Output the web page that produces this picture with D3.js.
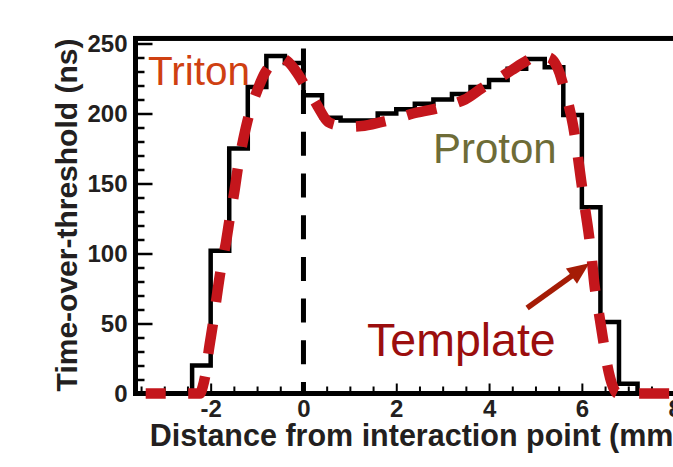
<!DOCTYPE html>
<html>
<head>
<meta charset="utf-8">
<script src="https://cdn.jsdelivr.net/npm/d3@7"></script>
<style>
  html, body { margin: 0; padding: 0; background: #fff; }
  svg { display: block; }
  text { font-family: "Liberation Sans", Arial, Helvetica, sans-serif; }
</style>
</head>
<body>
<svg id="chart" width="673" height="467"></svg>
<script>
// Measured time-over-threshold per 0.4 mm bin (edges in mm, values in ns)
const binEdges = [-2.8, -2.4, -2.0, -1.6, -1.2, -0.8, -0.4, 0.0, 0.4, 0.8, 1.2, 1.6, 2.0,
                  2.4, 2.8, 3.2, 3.6, 4.0, 4.4, 4.8, 5.2, 5.6, 6.0, 6.4, 6.8, 7.2, 7.6];
const totValues = [0, 20, 102, 175, 219, 241, 236, 213, 197, 195, 195, 200, 203,
                   207, 210, 214, 219, 224, 232, 239, 233, 199, 133, 51, 7, 0];

// Template curve: distance (mm) and expected time-over-threshold (ns)
const templateX = [-3.4, -2.6, -2.23, -2.17, -2.10, -2.04, -1.95, -1.87, -1.78, -1.67, -1.58,
                   -1.49, -1.41, -1.30, -1.17, -0.99, -0.83, -0.68, -0.50, -0.35, -0.20, -0.04,
                   0.10, 0.25, 0.31, 0.53, 0.75, 1.0, 1.25, 1.69, 2.0, 2.36, 2.79, 3.2, 3.48,
                   3.84, 4.2, 4.49, 4.78, 5.06, 5.3, 5.42, 5.52, 5.6, 5.69, 5.81, 5.90, 5.98,
                   6.06, 6.14, 6.21, 6.27, 6.36, 6.45, 6.54, 6.61, 6.68, 6.76, 7.5, 9.0];
const templateY = [0, 0, 0, 5, 16, 31, 50, 69, 89, 108, 127,
                   144, 162, 181, 199.5, 217, 229, 236, 240, 237.5, 232, 224,
                   216, 208.4, 205, 194, 191.5, 190.6, 191, 194, 196.5, 200, 203, 206.5, 210,
                   218, 225, 231, 237, 241.5, 240, 236, 229, 220, 209.5, 191.5, 172.5, 153,
                   134, 116, 97.5, 78, 59, 40, 21.5, 11, 4, 0, 0, 0];

// Axis ticks
const xTickMajor = [-2, 0, 2, 4, 6, 8];
const yTickMajor = [0, 50, 100, 150, 200, 250];

// Annotations (data coordinates)
const labels = [
  { text: "Triton",   x: -3.35, y: 220.4, size: 40.5, color: "#cf4011" },
  { text: "Proton",   x: 2.79,  y: 164.9, size: 42,   color: "#6e6c37" },
  { text: "Template", x: 1.37,  y: 26.8,  size: 46.5, color: "#9b0e0e" }
];
const arrowFrom = [4.82, 61];
const arrowTo = [6.16, 93];
const dividerTop = 246.5;

const svg = d3.select("#chart");
svg.append("rect").attr("width", 673).attr("height", 467).attr("fill", "#fff");

const xDomain = [-3.62, 8.5];
const yDomain = [0, 253.6];
const x = d3.scaleLinear().domain(xDomain).range([135.5, 135.5 + (xDomain[1] - xDomain[0]) * 46.4]);
const y = d3.scaleLinear().domain(yDomain).range([393.5, 393.5 - yDomain[1] * 1.4]);

const ink = "#231f20";

// Frame
svg.append("rect")
  .attr("x", x(xDomain[0])).attr("y", y(yDomain[1]))
  .attr("width", x(xDomain[1]) - x(xDomain[0]))
  .attr("height", y(0) - y(yDomain[1]))
  .attr("fill", "none").attr("stroke", "#000").attr("stroke-width", 5);

// Y axis: major + minor ticks pointing inward
const yMinor = d3.range(10, 250, 10).filter(v => v % 50 !== 0);
const gYminor = svg.append("g").attr("transform", `translate(${x(xDomain[0])},0)`)
  .call(d3.axisLeft(y).tickValues(yMinor).tickSize(-9).tickFormat(""));
const gY = svg.append("g").attr("transform", `translate(${x(xDomain[0])},0)`)
  .call(d3.axisLeft(y).tickValues(yTickMajor).tickSize(-17).tickPadding(8).tickFormat(d => String(d)));

// X axis
const xMinor = d3.range(-3.5, 8.51, 0.5).filter(v => !xTickMajor.includes(v));
const gXminor = svg.append("g").attr("transform", `translate(0,${y(0)})`)
  .call(d3.axisBottom(x).tickValues(xMinor).tickSize(-7).tickFormat(""));
const gX = svg.append("g").attr("transform", `translate(0,${y(0)})`)
  .call(d3.axisBottom(x).tickValues(xTickMajor).tickSize(-10).tickPadding(6.5).tickFormat(d => String(d)));

[gYminor, gY, gXminor, gX].forEach(g => {
  g.select(".domain").remove();
  g.selectAll(".tick line").attr("stroke", "#000");
  g.selectAll("text").attr("font-size", 24).attr("font-weight", "bold").attr("fill", ink)
    .attr("font-family", "'Liberation Sans', Arial, Helvetica, sans-serif");
});
[gYminor, gY].forEach(g => g.selectAll(".tick line").attr("stroke-width", 2.5));
[gXminor, gX].forEach(g => g.selectAll(".tick line").attr("stroke-width", 2));

// Axis titles
svg.append("text")
  .attr("x", (x(xDomain[0]) + x(xDomain[1])) / 2).attr("y", 446)
  .attr("text-anchor", "middle").attr("font-size", 30.5).attr("font-weight", "bold").attr("fill", ink)
  .text("Distance from interaction point (mm)");
svg.append("text")
  .attr("transform", "translate(77,215) rotate(-90)")
  .attr("text-anchor", "middle").attr("font-size", 30).attr("font-weight", "bold").attr("fill", ink)
  .text("Time-over-threshold (ns)");

// Histogram as a step line
const histPts = binEdges.map((e, i) => [e, totValues[Math.min(i, totValues.length - 1)]]);
histPts[histPts.length - 1][1] = 0;
svg.append("path")
  .datum(histPts)
  .attr("d", d3.line().x(d => x(d[0])).y(d => y(d[1])).curve(d3.curveStepAfter))
  .attr("fill", "none").attr("stroke", "#000").attr("stroke-width", 4.5)
  .attr("stroke-linejoin", "miter");

// Vertical dashed marker at the interaction point
svg.append("line")
  .attr("x1", x(0)).attr("x2", x(0))
  .attr("y1", y(dividerTop)).attr("y2", y(0))
  .attr("stroke", "#000").attr("stroke-width", 5)
  .attr("stroke-dasharray", "24,17.7");

// Template curve
const tpl = templateX.map((v, i) => [v, templateY[i]]);
svg.append("path")
  .datum(tpl)
  .attr("d", d3.line().x(d => x(d[0])).y(d => y(d[1])).curve(d3.curveMonotoneX))
  .attr("fill", "none").attr("stroke", "#c4161c").attr("stroke-width", 10.5)
  .attr("stroke-dasharray", "30,22.5").attr("stroke-dashoffset", 10);

// Text labels
labels.forEach(l => {
  svg.append("text")
    .attr("x", x(l.x)).attr("y", y(l.y))
    .attr("font-size", l.size).attr("fill", l.color)
    .text(l.text);
});

// Arrow pointing to the template
const ax0 = x(arrowFrom[0]), ay0 = y(arrowFrom[1]);
const ax1 = x(arrowTo[0]), ay1 = y(arrowTo[1]);
const len = Math.hypot(ax1 - ax0, ay1 - ay0);
const ux = (ax1 - ax0) / len, uy = (ay1 - ay0) / len;
const headLen = 22, headHalf = 9.5;
const bx = ax1 - ux * headLen, by = ay1 - uy * headLen;
const arrowColor = "#a51c06";
svg.append("line")
  .attr("x1", ax0).attr("y1", ay0).attr("x2", bx + ux * 2).attr("y2", by + uy * 2)
  .attr("stroke", arrowColor).attr("stroke-width", 5.5);
svg.append("path")
  .attr("d", `M${ax1},${ay1}L${bx - uy * headHalf},${by + ux * headHalf}L${bx + uy * headHalf},${by - ux * headHalf}Z`)
  .attr("fill", arrowColor);
</script>
</body>
</html>
